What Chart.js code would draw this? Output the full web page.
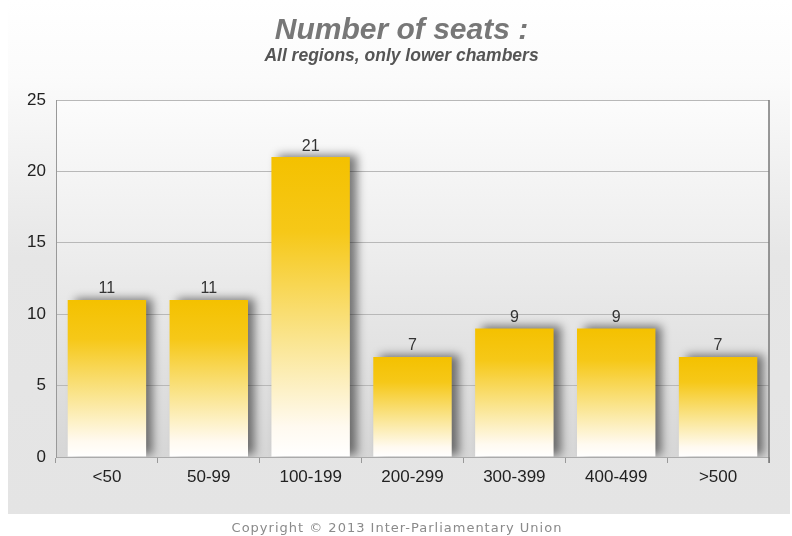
<!DOCTYPE html>
<html>
<head>
<meta charset="utf-8">
<script src="https://cdn.jsdelivr.net/npm/chart.js@4/dist/chart.umd.min.js"></script>
<style>
  html, body { margin: 0; padding: 0; background: #fff; }
  #wrap { width: 792px; height: 536px; }
</style>
</head>
<body>
<div id="wrap"><canvas id="seats" width="792" height="536"></canvas></div>
<script>
// Number of seats, lower chambers (IPU 2013)
const CATEGORIES = ['<50', '50-99', '100-199', '200-299', '300-399', '400-499', '>500'];
const SEATS      = [11, 11, 21, 7, 9, 9, 7];
const Y_MAX      = 25;
const Y_STEP     = 5;

const TITLE     = 'Number of seats :';
const SUBTITLE  = 'All regions, only lower chambers';
const COPYRIGHT = 'Copyright \u00A9 2013 Inter-Parliamentary Union';

const FONT = '"Liberation Sans", Arial, sans-serif';

// gold fading to white, per bar
function barGradient(c) {
  const chart = c.chart;
  if (!chart.chartArea || c.raw == null) return '#f5c400';
  const y = chart.scales.y;
  const top = y.getPixelForValue(c.raw);
  const base = y.getPixelForValue(0);
  const g = chart.ctx.createLinearGradient(0, top, 0, base);
  g.addColorStop(0,    '#f4c100');
  g.addColorStop(0.25, '#f6c818');
  g.addColorStop(0.6,  '#fae48c');
  g.addColorStop(0.9,  '#fffaf0');
  g.addColorStop(1,    '#ffffff');
  return g;
}

const panelPlugin = {
  id: 'panel',
  afterLayout(chart) {
    // titles sit a little right of the canvas centre
    chart.boxes.forEach(b => {
      if (b.options && (b.options.text === TITLE || b.options.text === SUBTITLE)) {
        b.left += 17;
        b.right += 17;
      }
    });
  },
  beforeDraw(chart) {
    const { ctx, chartArea: a } = chart;
    ctx.save();
    // outer panel
    const og = ctx.createLinearGradient(0, 0, 0, 514);
    og.addColorStop(0,    '#ffffff');
    og.addColorStop(0.15, '#fbfbfb');
    og.addColorStop(0.5,  '#e6e6e6');
    og.addColorStop(1,    '#e4e4e4');
    ctx.fillStyle = og;
    ctx.fillRect(8, 0, 782, 514);
    // plot area
    const pg = ctx.createLinearGradient(0, a.top, 0, a.bottom);
    pg.addColorStop(0,   '#fcfcfc');
    pg.addColorStop(0.4, '#eeeeee');
    pg.addColorStop(1,   '#d6d6d6');
    ctx.fillStyle = pg;
    ctx.fillRect(a.left, a.top, a.right - a.left, a.bottom - a.top);
    ctx.restore();
  },
  beforeDatasetsDraw(chart) {
    const ctx = chart.ctx;
    ctx.save();
    ctx.shadowColor = 'rgba(0,0,0,0.5)';
    ctx.shadowBlur = 9;
    ctx.shadowOffsetX = 7;
    ctx.shadowOffsetY = -2;
  },
  afterDatasetsDraw(chart) {
    const { ctx, chartArea: a } = chart;
    ctx.restore();
    ctx.save();
    // value labels
    ctx.font = '16px ' + FONT;
    ctx.fillStyle = '#333';
    ctx.textAlign = 'center';
    ctx.textBaseline = 'bottom';
    chart.getDatasetMeta(0).data.forEach((bar, i) => {
      ctx.fillText(String(SEATS[i]), bar.x, bar.y - 3);
    });
    // right frame line
    ctx.strokeStyle = '#777';
    ctx.lineWidth = 1.5;
    ctx.beginPath();
    ctx.moveTo(a.right, a.top);
    ctx.lineTo(a.right, a.bottom + 6);
    ctx.stroke();
    // copyright
    ctx.font = '13px "DejaVu Sans", sans-serif';
    ctx.letterSpacing = '1px';
    ctx.fillStyle = '#8a8a8a';
    ctx.textBaseline = 'middle';
    ctx.fillText(COPYRIGHT, 397, 529);
    ctx.restore();
  }
};

new Chart(document.getElementById('seats'), {
  type: 'bar',
  data: {
    labels: CATEGORIES,
    datasets: [{
      data: SEATS,
      backgroundColor: barGradient,
      borderWidth: 0,
      barPercentage: 0.77,
      categoryPercentage: 1.0,
    }],
  },
  options: {
    responsive: false,
    animation: false,
    devicePixelRatio: 1,
    layout: { padding: { left: 0, right: 23, top: 0, bottom: 29 } },
    plugins: {
      legend:  { display: false },
      tooltip: { enabled: false },
      title: {
        display: true,
        text: TITLE,
        color: '#777',
        font: { family: FONT, size: 30, style: 'italic', weight: 'bold', lineHeight: 1.0 },
        padding: { top: 16, bottom: 0 },
      },
      subtitle: {
        display: true,
        text: SUBTITLE,
        color: '#555',
        font: { family: FONT, size: 17.5, style: 'italic', weight: 'bold', lineHeight: 1.0 },
        padding: { top: 1, bottom: 35.5 },
      },
    },
    scales: {
      x: {
        grid: { offset: true, drawOnChartArea: false, drawTicks: true, tickLength: 6, color: '#999' },
        border: { display: true, color: '#aaa' },
        ticks: { color: '#222', padding: 4, font: { family: FONT, size: 17 } },
        afterFit: s => { s.height = 50; },
      },
      y: {
        min: 0,
        max: Y_MAX,
        grid: { color: '#b8b8b8', drawTicks: false },
        border: { display: true, color: '#999' },
        ticks: { stepSize: Y_STEP, color: '#222', padding: 10, font: { family: FONT, size: 17 } },
        afterFit: s => { s.width = 56; },
      },
    },
  },
  plugins: [panelPlugin],
});
</script>
</body>
</html>
